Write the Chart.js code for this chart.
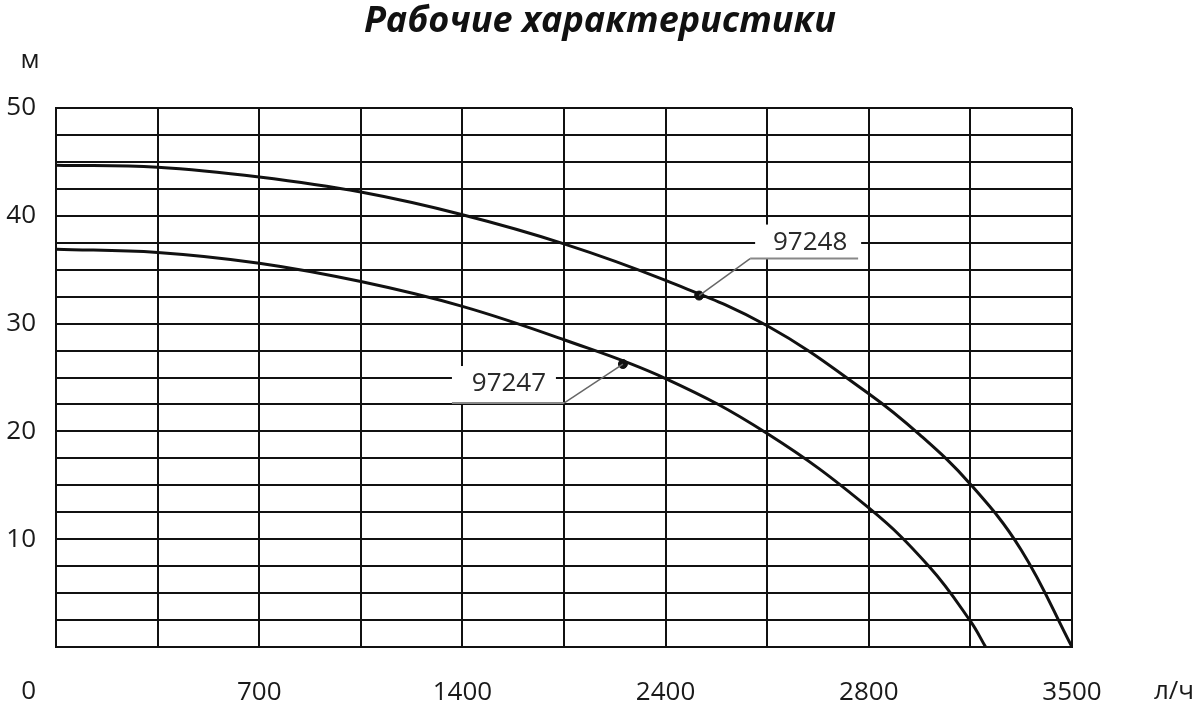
<!DOCTYPE html>
<html><head><meta charset="utf-8">
<script src="https://cdn.jsdelivr.net/npm/chart.js@4/dist/chart.umd.min.js"></script>
<style>html,body{margin:0;padding:0;background:#fff}#wrap{width:1200px;height:706px;position:relative}</style>
</head><body><div id="wrap"><canvas id="c" width="1200" height="706"></canvas></div>
<script>
// ---- data ----
const chartTitle = 'Рабочие характеристики';
const yUnit = 'м';
const xUnit = 'л/ч';
const xTickLabels = ['0', '', '700', '', '1400', '', '2400', '', '2800', '', '3500'];
const flow97248 = [0, 1, 2, 3, 4, 5, 6, 7, 8, 8.5, 9, 9.5, 10];
const head97248 = [44.7, 44.5, 43.6, 42.2, 40.1, 37.4, 34.0, 29.8, 23.5, 19.7, 15.1, 9.0, 0];
const flow97247 = [0, 1, 2, 3, 4, 5, 6, 7, 8, 8.6, 9, 9.15];
const head97247 = [36.9, 36.6, 35.6, 33.9, 31.6, 28.5, 24.9, 19.8, 12.9, 7.4, 2.4, 0];
const markerNames = ['97248', '97247'];
const markerFlow = [6.33, 5.58];
const markerHead = [32.6, 26.25];

const FONT = "'Open Sans', 'DejaVu Sans', sans-serif";
const toPts = (xs, ys) => xs.map((v, i) => ({x: v, y: ys[i]}));

// leader label geometry (pixel offsets from marker)
const leaderStyle = [
  {elbow: [51, -37], lineEnd: 108, box: [5, -34, 106, 34], text: [60, -16]},
  {elbow: [-59, 39], lineEnd: -112, box: [-112, -37, 104, 36], text: [-55, -19]}
];

const extras = {
  id: 'extras',
  afterDatasetsDraw(chart) {
    const {ctx, scales: {x, y}} = chart;
    ctx.save();
    markerNames.forEach((name, i) => {
      const px = x.getPixelForValue(markerFlow[i]);
      const py = y.getPixelForValue(markerHead[i]);
      const s = leaderStyle[i];
      const ex = px + s.elbow[0], ey = py + s.elbow[1];
      ctx.fillStyle = '#fff';
      ctx.fillRect(ex + s.box[0], ey + s.box[1], s.box[2], s.box[3]);
      ctx.strokeStyle = '#666';
      ctx.lineWidth = 1.5;
      ctx.beginPath();
      ctx.moveTo(px, py);
      ctx.lineTo(ex, ey);
      ctx.stroke();
      ctx.strokeStyle = '#888';
      ctx.lineWidth = 2;
      ctx.beginPath();
      ctx.moveTo(ex, ey);
      ctx.lineTo(ex + s.lineEnd, ey);
      ctx.stroke();
      ctx.fillStyle = '#2a2a2a';
      ctx.font = '26px ' + FONT;
      ctx.textAlign = 'center';
      ctx.textBaseline = 'middle';
      ctx.fillText(name, ex + s.text[0], ey + s.text[1]);
    });
    // unit labels and origin label
    ctx.fillStyle = '#1a1a1a';
    ctx.font = '26px ' + FONT;
    ctx.textBaseline = 'alphabetic';
    ctx.textAlign = 'center';
    ctx.fillText(yUnit, 30, 68);
    ctx.textAlign = 'right';
    ctx.fillText(xTickLabels[0], 36, 699);
    ctx.textAlign = 'center';
    ctx.fillText(xUnit, 1174, 699);
    ctx.restore();
  }
};

new Chart(document.getElementById('c'), {
  type: 'line',
  data: {
    datasets: [
      {label: '97248', data: toPts(flow97248, head97248), borderColor: '#111', borderWidth: 3,
       pointRadius: 0, tension: 0.4, fill: false},
      {label: '97247', data: toPts(flow97247, head97247), borderColor: '#111', borderWidth: 3,
       pointRadius: 0, tension: 0.4, fill: false},
      {label: 'points', type: 'scatter', data: toPts(markerFlow, markerHead),
       pointRadius: 4.5, pointBackgroundColor: '#111', pointBorderColor: '#111', showLine: false}
    ]
  },
  options: {
    responsive: false,
    animation: false,
    layout: {padding: {left: 0, right: 0, top: 0, bottom: 0}},
    plugins: {
      legend: {display: false},
      tooltip: {enabled: false},
      title: {
        display: true, text: chartTitle, color: '#111',
        font: {family: FONT, size: 36, weight: 'bold', style: 'italic', lineHeight: 1.2},
        padding: {top: 0, bottom: 64.8}
      }
    },
    scales: {
      x: {
        type: 'linear', min: 0, max: 10,
        grid: {color: '#111', lineWidth: 2, drawTicks: false},
        border: {color: '#111', width: 2},
        ticks: {
          stepSize: 1, autoSkip: false, maxRotation: 0, padding: 30,
          color: '#1a1a1a', font: {family: FONT, size: 26},
          callback: (v) => (v > 0 ? (xTickLabels[v] || '') : '')
        },
        afterFit(s) { s.height = 59; }
      },
      y: {
        min: 0, max: 50,
        grid: {color: '#111', lineWidth: 2, drawTicks: false},
        border: {color: '#111', width: 2},
        ticks: {
          stepSize: 2.5, autoSkip: false, padding: 20,
          color: '#1a1a1a', font: {family: FONT, size: 26},
          callback: (v) => (v > 0 && v % 10 === 0 ? String(v) : '')
        },
        afterFit(s) { s.width = 56; }
      },
      yR: {
        position: 'right', display: true,
        grid: {display: false}, border: {display: false}, ticks: {display: false},
        afterFit(s) { s.width = 128; }
      }
    }
  },
  plugins: [extras]
});
</script>
</body></html>
